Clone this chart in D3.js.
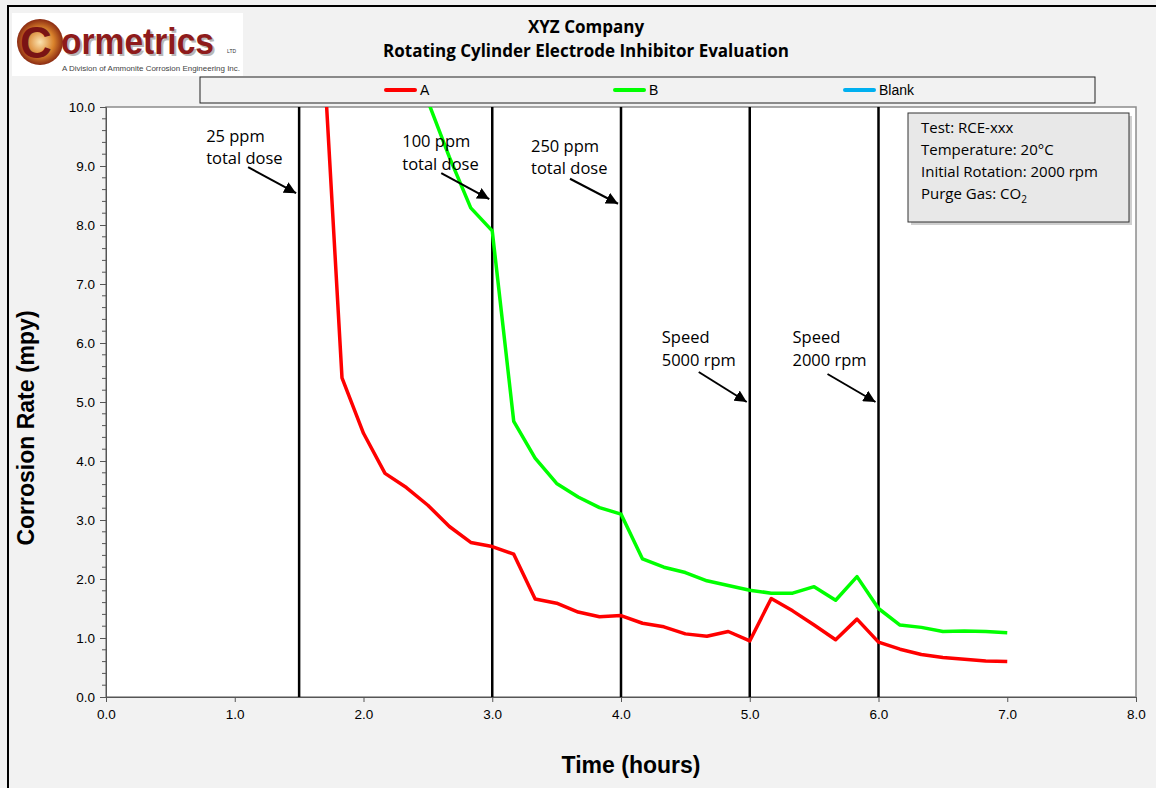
<!DOCTYPE html>
<html><head><meta charset="utf-8">
<script src="https://cdn.jsdelivr.net/npm/d3@7"></script>
<style>
html,body{margin:0;padding:0;background:#f2f2f2;}
svg{display:block;}
</style></head>
<body>
<svg id="chart" width="1156" height="788"></svg>
<script>
// ---- data ----
const timeA = [1.667,1.833,2.0,2.167,2.333,2.5,2.667,2.833,3.0,3.167,3.333,3.5,3.667,3.833,4.0,4.167,4.333,4.5,4.667,4.833,5.0,5.167,5.333,5.5,5.667,5.833,6.0,6.167,6.333,6.5,6.667,6.833,7.0];
const seriesA = [11.8,5.41,4.47,3.79,3.55,3.25,2.89,2.62,2.55,2.42,1.66,1.59,1.44,1.36,1.38,1.25,1.19,1.07,1.03,1.11,0.95,1.67,1.46,1.22,0.97,1.32,0.93,0.81,0.72,0.67,0.64,0.61,0.60];
const timeB = [2.5,2.667,2.833,3.0,3.167,3.333,3.5,3.667,3.833,4.0,4.167,4.333,4.5,4.667,4.833,5.0,5.167,5.333,5.5,5.667,5.833,6.0,6.167,6.333,6.5,6.667,6.833,7.0];
const seriesB = [10.1,9.15,8.29,7.9,4.67,4.05,3.62,3.39,3.21,3.10,2.34,2.20,2.11,1.97,1.89,1.81,1.76,1.76,1.87,1.64,2.04,1.50,1.22,1.18,1.11,1.12,1.11,1.09];
const timeBlank = [];
const seriesBlank = [];
const legendNames = ["A","B","Blank"];
const legendColors = ["#ff0000","#00ff00","#00b0f0"];
const eventTimes = [1.5,3.0,4.0,5.0,6.0];
const eventLabels = [["25 ppm","total dose"],["100 ppm","total dose"],["250 ppm","total dose"],["Speed","5000 rpm"],["Speed","2000 rpm"]];
const arrowTipValue = [8.54, 8.44, 8.36, 5.0, 5.0];
const labelBaseValue = [9.41, 9.32, 9.24, 6.0, 6.0];
const xTicks = [0,1,2,3,4,5,6,7,8];
const yTicks = [0,1,2,3,4,5,6,7,8,9,10];
const infoLines = ["Test: RCE-xxx","Temperature: 20°C","Initial Rotation: 2000 rpm","Purge Gas: CO"];

// ---- layout ----
const svg = d3.select("#chart");
const L = 106, R = 1136, T = 107, B = 697;
const x = d3.scaleLinear().domain([0,8]).range([L,R]);
const y = d3.scaleLinear().domain([0,10]).range([B,T]);
const defs = svg.append("defs");

// outer frame
svg.append("rect").attr("x",8).attr("y",6).attr("width",1160).attr("height",800)
  .attr("fill","#f2f2f2").attr("stroke","#000").attr("stroke-width",2);

// logo
const logo = svg.append("g");
logo.append("rect").attr("x",12).attr("y",13).attr("width",231).attr("height",63).attr("fill","#fff");
const grad = defs.append("radialGradient").attr("id","lg");
grad.append("stop").attr("offset","0%").attr("stop-color","#fbe3b0");
grad.append("stop").attr("offset","60%").attr("stop-color","#d9822b");
grad.append("stop").attr("offset","100%").attr("stop-color","#8a2a12");
logo.append("circle").attr("cx",40).attr("cy",42).attr("r",23).attr("fill","url(#lg)");
logo.append("text").attr("x",20).attr("y",58).attr("font-family","Liberation Sans, Arial").attr("font-weight","bold")
  .attr("font-size",44).attr("fill","#7a1414").text("C");
logo.append("text").attr("x",63).attr("y",56).attr("font-family","Liberation Sans, Arial").attr("font-weight","bold")
  .attr("font-size",36).attr("fill","#b8b8b8").attr("textLength",153).attr("lengthAdjust","spacingAndGlyphs").text("ormetrics");
logo.append("text").attr("x",61).attr("y",54).attr("font-family","Liberation Sans, Arial").attr("font-weight","bold")
  .attr("font-size",36).attr("fill","#8e1b1b").attr("textLength",153).attr("lengthAdjust","spacingAndGlyphs").text("ormetrics");
logo.append("text").attr("x",227).attr("y",53).attr("font-family","Liberation Sans, Arial").attr("font-size",5).attr("fill","#333").text("LTD");
logo.append("text").attr("x",62).attr("y",71).attr("font-family","Liberation Sans, Arial").attr("font-size",7.5).attr("fill","#444")
  .attr("textLength",178).attr("lengthAdjust","spacingAndGlyphs").text("A Division of Ammonite Corrosion Engineering Inc.");

// title
svg.append("text").attr("x",586).attr("y",33).attr("text-anchor","middle").attr("font-family","Open Sans, Lato, sans-serif")
  .attr("font-weight","bold").attr("font-size",17).attr("fill","#000").text("XYZ Company");
svg.append("text").attr("x",586).attr("y",57).attr("text-anchor","middle").attr("font-family","Open Sans, Lato, sans-serif")
  .attr("font-weight","bold").attr("font-size",17).attr("fill","#000").text("Rotating Cylinder Electrode Inhibitor Evaluation");

// legend
svg.append("rect").attr("x",200).attr("y",77).attr("width",895).attr("height",26).attr("fill","#f2f2f2").attr("stroke","#222").attr("stroke-width",1);
const legX = [384,613,843];
legendNames.forEach((n,i)=>{
  svg.append("line").attr("x1",legX[i]+2).attr("x2",legX[i]+31).attr("y1",90).attr("y2",90)
    .attr("stroke",legendColors[i]).attr("stroke-width",4).attr("stroke-linecap","round");
  svg.append("text").attr("x",legX[i]+36).attr("y",95).attr("font-family","Liberation Sans, Arial").attr("font-size",14)
    .attr("fill","#000").text(n);
});

// plot area
svg.append("rect").attr("x",L).attr("y",T).attr("width",R-L).attr("height",B-T).attr("fill","#fff").attr("stroke","#8c8c8c").attr("stroke-width",1.5);

// axes
const yAxis = d3.axisLeft(y).tickValues(yTicks).tickFormat(d3.format(".1f")).tickSize(6).tickPadding(5);
const gy = svg.append("g").attr("transform",`translate(${L},0)`).call(yAxis);
gy.selectAll("text").attr("font-family","Liberation Sans, Arial").attr("font-size",13.5).attr("fill","#000");
gy.select(".domain").attr("stroke","#555");
gy.selectAll(".tick line").attr("stroke","#555");
const yMinor = d3.range(0,50).map(i=>i*0.2).filter(v=>Math.abs(v-Math.round(v))>0.01);
svg.append("g").selectAll("line").data(yMinor).join("line")
  .attr("x1",L-4).attr("x2",L).attr("y1",d=>y(d)).attr("y2",d=>y(d)).attr("stroke","#555");

const xAxis = d3.axisBottom(x).tickValues(xTicks).tickFormat(d3.format(".1f")).tickSize(5).tickPadding(7);
const gx = svg.append("g").attr("transform",`translate(0,${B})`).call(xAxis);
gx.selectAll("text").attr("font-family","Liberation Sans, Arial").attr("font-size",13.5).attr("fill","#000");
gx.select(".domain").attr("stroke","#555");
gx.selectAll(".tick line").attr("stroke","#555");

// axis titles
svg.append("text").attr("transform","translate(34,428) rotate(-90)").attr("text-anchor","middle")
  .attr("font-family","Liberation Sans, Arial").attr("font-weight","bold").attr("font-size",23).attr("fill","#000").text("Corrosion Rate (mpy)");
svg.append("text").attr("x",631).attr("y",773).attr("text-anchor","middle")
  .attr("font-family","Liberation Sans, Arial").attr("font-weight","bold").attr("font-size",23).attr("fill","#000").text("Time (hours)");

// clip
defs.append("clipPath").attr("id","clip").append("rect").attr("x",L).attr("y",T).attr("width",R-L).attr("height",B-T);

// event lines
svg.append("g").selectAll("line").data(eventTimes).join("line")
  .attr("x1",d=>x(d)).attr("x2",d=>x(d)).attr("y1",T).attr("y2",B).attr("stroke","#000").attr("stroke-width",2.5);

// series
const line = d3.line().x(d=>x(d[0])).y(d=>y(d[1]));
const gs = svg.append("g").attr("clip-path","url(#clip)");
[[timeBlank,seriesBlank,2],[timeB,seriesB,1],[timeA,seriesA,0]].forEach(([t,v,i])=>{
  if(!t.length) return;
  gs.append("path").datum(t.map((tt,k)=>[tt,v[k]])).attr("d",line).attr("fill","none")
    .attr("stroke",legendColors[i]).attr("stroke-width",3.5).attr("stroke-linejoin","round");
});

// annotations
defs.append("marker").attr("id","arr").attr("viewBox","0 0 10 10").attr("refX",10).attr("refY",5)
  .attr("markerWidth",6).attr("markerHeight",6).attr("orient","auto").attr("markerUnits","strokeWidth")
  .append("path").attr("d","M0,0 L10,5 L0,10 z").attr("fill","#000");
const annTextDx = [-93,-90,-90,-88,-86];
const arrowRise = [26, 26, 25, 30, 28];
eventTimes.forEach((t,i)=>{
  const tx = x(t)+annTextDx[i];
  const ty = y(labelBaseValue[i]);
  const tg = svg.append("text").attr("font-family","Open Sans, Lato, sans-serif").attr("font-size",16.5).attr("fill","#000");
  tg.append("tspan").attr("x",tx).attr("y",ty).text(eventLabels[i][0]);
  tg.append("tspan").attr("x",tx).attr("dy",22.5).text(eventLabels[i][1]);
  const ye = y(arrowTipValue[i]);
  svg.append("line").attr("x1",x(t)-51).attr("y1",ye-arrowRise[i]).attr("x2",x(t)-3).attr("y2",ye)
    .attr("stroke","#000").attr("stroke-width",2).attr("marker-end","url(#arr)");
});

// info box
svg.append("rect").attr("x",911).attr("y",116).attr("width",221).attr("height",109).attr("fill","#cfcfcf");
svg.append("rect").attr("x",908).attr("y",113).attr("width",221).attr("height",109).attr("fill","#e8e8e8").attr("stroke","#333").attr("stroke-width",1);
infoLines.forEach((s,i)=>{
  const tt = svg.append("text").attr("x",921).attr("y",133+i*22).attr("font-family","Open Sans, Lato, sans-serif")
    .attr("font-size",15).attr("fill","#000").text(s);
  if(i===3) tt.append("tspan").attr("font-size",10).attr("dy",4).text("2");
});
</script>
</body></html>
